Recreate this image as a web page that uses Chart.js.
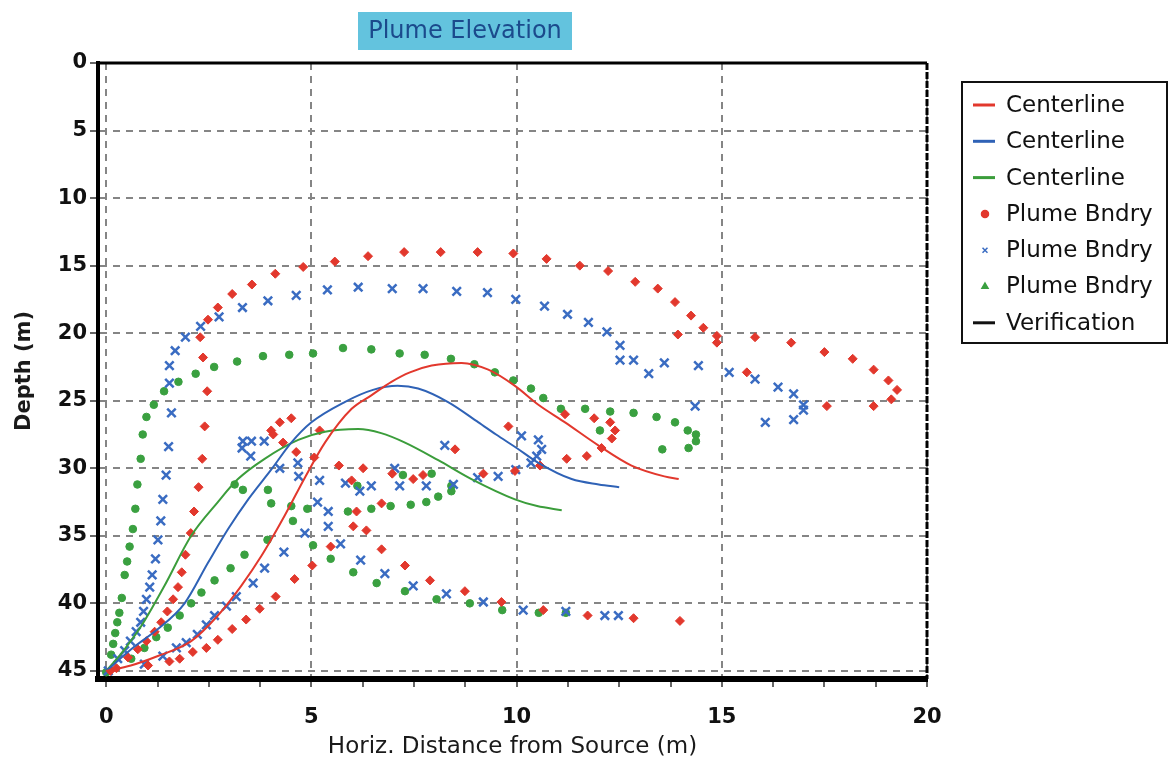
<!DOCTYPE html>
<html>
<head>
<meta charset="utf-8">
<title>Plume Elevation</title>
<script src="https://cdn.jsdelivr.net/npm/chart.js@4.4.1/dist/chart.umd.min.js"></script>
<style>
  html, body { margin: 0; padding: 0; background: #fff; }
  #wrap { width: 1173px; height: 762px; }
</style>
</head>
<body>
<div id="wrap"><canvas id="plume"></canvas></div>
<script>
// all points are [horiz. distance (m), depth (m)]
var redLine = [[0,45],[0.6,44.6],[1.26,43.9],[2.07,42.8],[2.72,40.9],[3.29,38.7],[3.78,36.5],[4.35,33.5],[4.84,30.7],[5.33,28.1],[5.98,25.6],[6.46,24.6],[6.95,23.6],[7.4,22.9],[7.93,22.4],[8.66,22.2],[9.31,22.7],[9.96,23.9],[10.53,25.3],[11.18,26.6],[11.99,28.3],[12.8,29.8],[13.6,30.6],[13.95,30.8]];
var blueLine = [[0,45],[0.69,43.2],[1.26,41.9],[1.91,40.0],[2.48,37.0],[2.97,34.5],[3.46,32.3],[4.02,30.1],[4.51,28.1],[5.0,26.6],[5.81,25.1],[6.5,24.2],[7.1,23.9],[7.6,24.1],[8.33,25.1],[9.07,26.6],[9.5,27.5],[10.0,28.5],[10.53,29.6],[11.34,30.8],[12.0,31.2],[12.5,31.4]];
var greenLine = [[0,45],[0.37,43.7],[0.85,41.7],[1.42,38.7],[2.07,35.0],[2.72,32.5],[3.21,30.8],[3.86,29.3],[4.68,27.9],[5.33,27.3],[6.14,27.1],[6.7,27.4],[7.28,28.1],[8.09,29.4],[8.9,30.8],[9.96,32.3],[10.5,32.8],[11.1,33.1]];

var redBndry = [
  [0.1,45],[0.25,44.8],[0.53,44.0],[0.77,43.4],[0.98,42.8],[1.18,42.1],[1.34,41.4],[1.49,40.6],[1.63,39.7],[1.75,38.8],[1.84,37.7],[1.93,36.4],[2.06,34.8],[2.14,33.2],[2.25,31.4],[2.34,29.3],[2.40,26.9],[2.46,24.3],[2.36,21.8],[2.29,20.3],[2.48,19.0],[2.72,18.1],[3.07,17.1],[3.55,16.4],[4.12,15.6],[4.80,15.1],[5.57,14.7],[6.38,14.3],[7.26,14.0],[8.15,14.0],[9.05,14.0],[9.92,14.1],[10.73,14.5],[11.54,15.0],[12.23,15.4],[12.89,16.2],[13.44,16.7],[13.86,17.7],[14.25,18.7],[14.55,19.6],[14.88,20.2],[14.88,20.7],[13.93,20.1],[15.81,20.3],[16.69,20.7],[17.50,21.4],[18.19,21.9],[18.70,22.7],[19.06,23.5],[19.27,24.2],[19.13,24.9],[18.70,25.4],[17.56,25.4],[15.61,22.9],
  [4.02,27.2],[4.07,27.5],[4.23,26.6],[4.51,26.3],[4.31,28.1],[4.63,28.8],[5.2,27.2],[5.07,29.2],[5.67,29.8],[6.26,30.0],[6.97,30.4],[7.48,30.8],[7.72,30.5],[5.98,30.9],[8.5,28.6],[9.19,30.4],[9.96,30.2],[10.57,29.8],[11.22,29.3],[11.71,29.1],[12.07,28.5],[12.32,27.8],[12.4,27.2],[12.28,26.6],[11.89,26.3],[11.18,26.0],[9.8,26.9],
  [6.71,32.6],[6.10,33.2],[6.02,34.3],[6.34,34.6],[6.71,36.0],[5.47,35.8],[5.02,37.2],[4.59,38.2],[4.13,39.5],[3.74,40.4],[3.41,41.2],[3.07,41.9],[2.72,42.7],[2.44,43.3],[2.11,43.6],[1.79,44.1],[1.54,44.3],[1.02,44.6],[7.28,37.2],[7.89,38.3],[8.74,39.1],[9.63,39.9],[10.65,40.5],[11.73,40.9],[12.85,41.1],[13.98,41.3]
];
var blueBndry = [
  [0.05,45],[0.28,44.1],[0.45,43.5],[0.59,42.8],[0.73,42.1],[0.84,41.4],[0.91,40.6],[0.98,39.7],[1.06,38.8],[1.12,37.9],[1.20,36.7],[1.26,35.3],[1.33,33.9],[1.38,32.3],[1.46,30.5],[1.52,28.4],[1.59,25.9],[1.54,23.7],[1.54,22.4],[1.68,21.3],[1.93,20.3],[2.30,19.5],[2.75,18.8],[3.32,18.1],[3.94,17.6],[4.63,17.2],[5.39,16.8],[6.14,16.6],[6.97,16.7],[7.72,16.7],[8.54,16.9],[9.29,17.0],[9.98,17.5],[10.68,18.0],[11.24,18.6],[11.75,19.2],[12.20,19.9],[12.52,20.9],[12.52,22.0],[12.85,22.0],[13.22,23.0],[13.60,22.2],[14.43,22.4],[15.18,22.9],[15.81,23.4],[16.37,24.0],[16.75,24.5],[16.99,25.3],[16.99,25.7],[16.75,26.4],[16.06,26.6],[14.35,25.4],
  [3.33,28.0],[3.54,28.0],[3.85,28.0],[3.31,28.5],[3.52,29.1],[4.23,30.0],[4.67,29.6],[4.69,30.6],[5.2,30.9],[5.83,31.1],[6.18,31.7],[6.46,31.3],[7.03,30.0],[7.15,31.3],[7.80,31.3],[8.46,31.2],[9.05,30.7],[9.55,30.6],[9.98,30.1],[10.35,29.6],[10.49,29.1],[10.61,28.6],[10.53,27.9],[10.12,27.6],[8.25,28.3],
  [0.93,44.5],[1.38,43.9],[1.71,43.3],[1.95,42.9],[2.22,42.3],[2.44,41.6],[2.64,40.9],[2.93,40.2],[3.17,39.5],[3.58,38.5],[3.86,37.4],[4.33,36.2],[4.84,34.8],[5.15,32.5],[5.41,33.2],[5.41,34.3],[5.71,35.6],[6.20,36.8],[6.79,37.8],[7.48,38.7],[8.29,39.3],[9.19,39.9],[10.16,40.5],[11.2,40.6],[12.15,40.9],[12.48,40.9]
];
var greenBndry = [
  [0,45.1],[0.12,43.8],[0.17,43.0],[0.22,42.2],[0.27,41.4],[0.32,40.7],[0.38,39.6],[0.45,37.9],[0.51,36.9],[0.57,35.8],[0.65,34.5],[0.71,33.0],[0.76,31.2],[0.84,29.3],[0.89,27.5],[0.98,26.2],[1.16,25.3],[1.41,24.3],[1.76,23.6],[2.18,23.0],[2.63,22.5],[3.19,22.1],[3.82,21.7],[4.46,21.6],[5.04,21.5],[5.77,21.1],[6.46,21.2],[7.15,21.5],[7.76,21.6],[8.40,21.9],[8.97,22.3],[9.47,22.9],[9.92,23.5],[10.35,24.1],[10.65,24.8],[11.08,25.6],[11.67,25.6],[12.28,25.8],[12.85,25.9],[13.41,26.2],[13.86,26.6],[14.17,27.2],[14.37,27.5],[14.37,28.0],[14.19,28.5],[13.55,28.6],[12.03,27.2],
  [7.23,30.5],[7.93,30.4],[8.41,31.3],[8.41,31.7],[8.09,32.1],[7.80,32.5],[7.42,32.7],[6.93,32.8],[6.46,33.0],[5.89,33.2],[6.12,31.3],[4.90,33.0],[4.51,32.8],[4.55,33.9],[4.02,32.6],[3.13,31.2],[3.33,31.6],[3.94,31.6],
  [5.04,35.7],[5.47,36.7],[6.02,37.7],[6.59,38.5],[7.28,39.1],[8.05,39.7],[8.86,40.0],[9.65,40.5],[10.54,40.7],[11.2,40.7],
  [0.61,44.1],[0.93,43.3],[1.22,42.5],[1.50,41.8],[1.79,40.9],[2.07,40.0],[2.32,39.2],[2.64,38.3],[3.03,37.4],[3.37,36.4],[3.93,35.3]
];

var xMajor = [0, 5, 10, 15, 20];
var depthTicks = [0, 5, 10, 15, 20, 25, 30, 35, 40, 45];
var legendMarks = ['line', 'line', 'line', 'circle', 'crossRot', 'triangle', 'line'];

var RED = '#e2382d', BLUE = '#2f62b6', GREEN = '#3b9d3b', GRID = '#858585';
var FONT = 'DejaVu Sans';

function toPts(arr) {
	return arr.map(function(p) { return {x: p[0], y: p[1]}; });
}

function lineSet(label, pts, color) {
	return {
		label: label, data: toPts(pts), showLine: true,
		borderColor: color, backgroundColor: color, borderWidth: 2,
		pointRadius: 0, cubicInterpolationMode: 'monotone'
	};
}

function markSet(label, pts, color, style, r, bw) {
	return {
		label: label, data: toPts(pts), showLine: false,
		pointStyle: style, pointRadius: r, pointBorderWidth: bw,
		borderColor: color, backgroundColor: color
	};
}

var framePlugin = {
	id: 'frame',
	afterDraw: function(chart) {
		var ctx = chart.ctx, a = chart.chartArea;
		ctx.save();
		// top + right frame edges
		ctx.strokeStyle = '#000';
		ctx.lineWidth = 3;
		ctx.beginPath();
		ctx.moveTo(a.left - 2, a.top);
		ctx.lineTo(a.right, a.top);
		ctx.stroke();
		ctx.setLineDash([7, 2]);
		ctx.beginPath();
		ctx.moveTo(a.right, a.top);
		ctx.lineTo(a.right, a.bottom);
		ctx.stroke();
		ctx.setLineDash([]);

		// title badge
		var tx = a.left + 260, ty = 12, tw = 214, th = 38;
		ctx.fillStyle = '#63c3de';
		ctx.fillRect(tx, ty, tw, th);
		ctx.fillStyle = '#1b4a8c';
		ctx.font = '24px "' + FONT + '"';
		ctx.textAlign = 'center';
		ctx.textBaseline = 'middle';
		ctx.fillText('Plume Elevation', tx + tw / 2, ty + th / 2 + 1);

		// legend
		var lx = a.right + 35, ly = 82, lw = 205, lh = 261;
		ctx.lineWidth = 2;
		ctx.strokeStyle = '#111';
		ctx.strokeRect(lx, ly, lw, lh);
		ctx.font = '23px "' + FONT + '"';
		ctx.textAlign = 'left';
		chart.data.datasets.forEach(function(ds, i) {
			var cy = ly + 23 + i * 36.3;
			var mark = legendMarks[i];
			if (mark === 'line') {
				ctx.strokeStyle = ds.borderColor;
				ctx.lineWidth = 3;
				ctx.beginPath();
				ctx.moveTo(lx + 11, cy);
				ctx.lineTo(lx + 33, cy);
				ctx.stroke();
			} else {
				ctx.fillStyle = ds.backgroundColor;
				ctx.strokeStyle = ds.borderColor;
				ctx.lineWidth = 1.5;
				Chart.helpers.drawPoint(ctx, {pointStyle: mark, radius: 3.5, rotation: 0, borderWidth: 1.5}, lx + 23, cy);
			}
			ctx.fillStyle = '#111';
			ctx.fillText(ds.label, lx + 44, cy + 1);
		});
		ctx.restore();
	}
};

var chart = new Chart(document.getElementById('plume'), {
	type: 'scatter',
	data: {
		datasets: [
			lineSet('Centerline', redLine, RED),
			lineSet('Centerline', blueLine, BLUE),
			lineSet('Centerline', greenLine, GREEN),
			markSet('Plume Bndry', redBndry, RED, 'rectRot', 4.5, 1),
			markSet('Plume Bndry', blueBndry, '#3a6cc2', 'crossRot', 6, 2.5),
			markSet('Plume Bndry', greenBndry, '#3aa040', 'circle', 3.8, 1),
			{label: 'Verification', data: [], showLine: true, borderColor: '#111', backgroundColor: '#111', borderWidth: 2, pointRadius: 0}
		]
	},
	options: {
		responsive: true,
		maintainAspectRatio: false,
		animation: false,
		layout: {padding: {top: 63, right: 246, left: 0, bottom: 0}},
		plugins: {
			legend: {display: false},
			tooltip: {enabled: false}
		},
		scales: {
			x: {
				type: 'linear', min: -0.2, max: 20,
				afterFit: function(s) { s.height = 83; },
				afterBuildTicks: function(s) {
					var t = [];
					for (var v = 0; v <= 20; v += 1.25) t.push({value: v});
					s.ticks = t;
				},
				grid: {
					color: function(c) { return c.tick && xMajor.indexOf(c.tick.value) >= 0 ? GRID : 'rgba(0,0,0,0)'; },
					lineWidth: 2, tickColor: '#333', tickWidth: 1.5, tickLength: 8
				},
				border: {color: '#000', width: 6, dash: [7, 6]},
				ticks: {
					autoSkip: false, maxRotation: 0, padding: 18, color: '#111',
					font: {family: FONT, size: 21, weight: 'bold'},
					callback: function(v) { return xMajor.indexOf(v) >= 0 ? String(v) : ''; }
				},
				title: {
					display: true, text: 'Horiz. Distance from Source (m)', color: '#1a1a1a',
					font: {family: FONT, size: 23}, padding: {top: 0, bottom: 1}
				}
			},
			y: {
				type: 'linear', reverse: true, min: 0, max: 45.6,
				afterFit: function(s) { s.width = 98; },
				afterBuildTicks: function(s) {
					s.ticks = depthTicks.map(function(v) { return {value: v}; });
				},
				grid: {color: GRID, lineWidth: 2, tickColor: '#333', tickWidth: 1.5, tickLength: 8},
				border: {color: '#000', width: 4, dash: [7, 6]},
				ticks: {padding: 3, color: '#111', font: {family: FONT, size: 21, weight: 'bold'}},
				title: {
					display: true, text: 'Depth (m)', color: '#1a1a1a',
					font: {family: FONT, size: 21, weight: 'bold'}, padding: {top: 12, bottom: 0}
				}
			}
		}
	},
	plugins: [framePlugin]
});
</script>
</body>
</html>
